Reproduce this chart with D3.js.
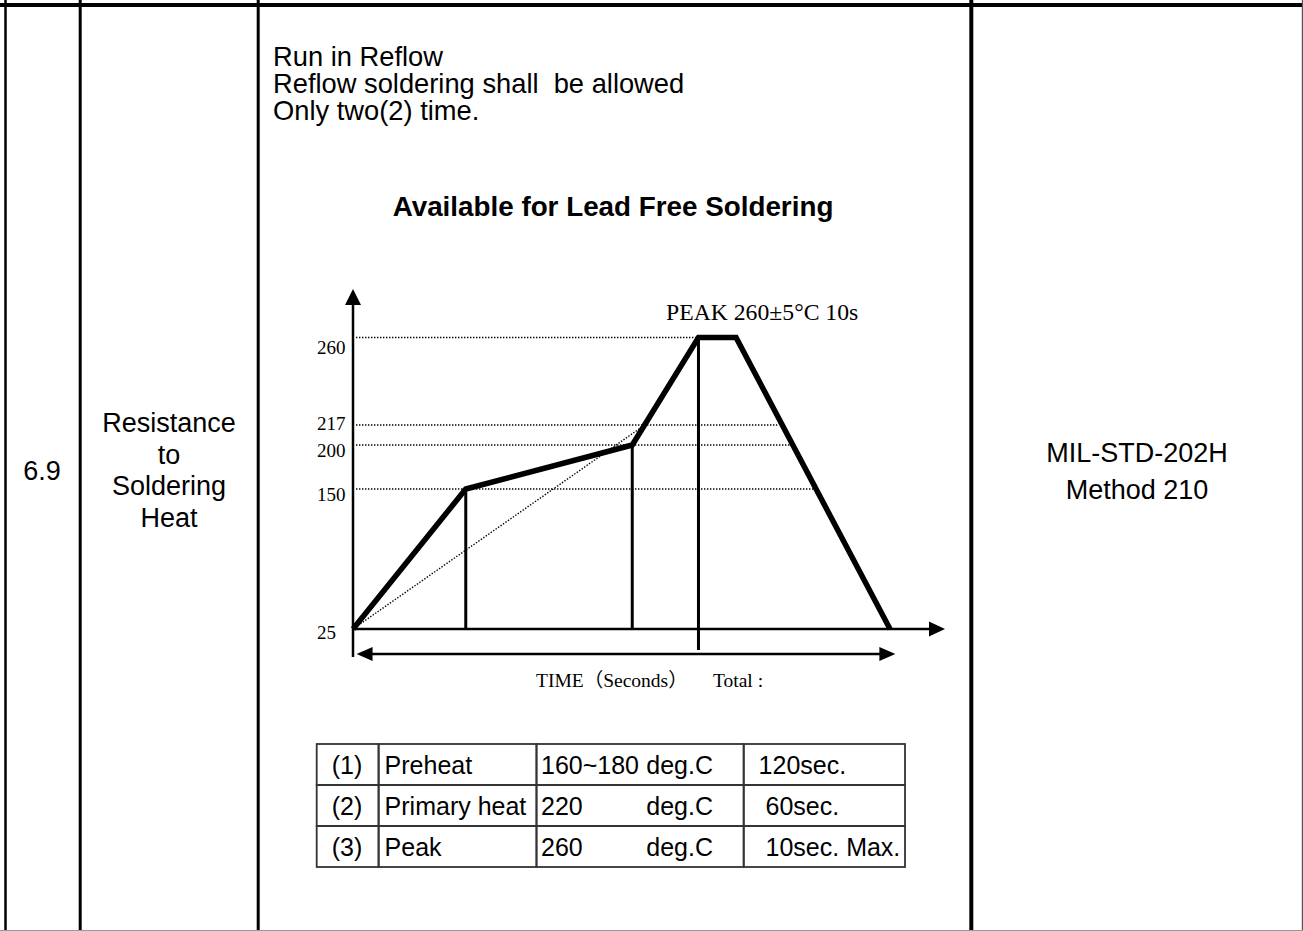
<!DOCTYPE html>
<html>
<head>
<meta charset="utf-8">
<script src="https://cdn.jsdelivr.net/npm/d3@7"></script>
<style>
body { margin: 0; background: #fff; }
svg text { fill: #000; }
.sans { font-family: "Liberation Sans", Arial, sans-serif; }
.serif { font-family: "Liberation Serif", "Times New Roman", "Noto Sans CJK SC", serif; }
.cell { fill: none; stroke: #333; stroke-width: 1.8; }
.dotted { fill: none; stroke: #000; stroke-width: 1.4; stroke-dasharray: 1.4, 1.6; }
.profile { fill: none; stroke: #000; stroke-width: 5.5; stroke-linejoin: miter; }
.marker { stroke: #000; stroke-width: 3; }
.axisline { stroke: #000; stroke-width: 2.5; }
.pre { white-space: pre; }
</style>
</head>
<body>
<svg id="sheet" width="1303" height="931"></svg>
<script>
// reflow profile, time in (unlabelled) seconds vs temperature
const profileTime = [0, 63, 156, 193, 214, 300];
const profileTemp = [25, 150, 200, 260, 260, 25];
const tempTicks = [25, 150, 200, 217, 260];
const gridEnds = [null, 257, 244, 237, 193];   // time where each dotted level meets the curve
const rampTime = [0, 163];
const rampTemp = [25, 217];
const markerTime = [63, 156, 193];
const markerTemp = [150, 200, 260];

// side columns and notes
const itemNo = "6.9";
const itemName = ["Resistance", "to", "Soldering", "Heat"];
const methodLines = ["MIL-STD-202H", "Method 210"];
const noteLines = ["Run in Reflow", "Reflow soldering shall  be allowed", "Only two(2) time."];

// conditions table
const steps = ["(1)", "(2)", "(3)"];
const stepNames = ["Preheat", "Primary heat", "Peak"];
const stepTemps = ["160~180", "220", "260"];
const stepTimes = ["  120sec.", "   60sec.", "   10sec. Max."];

// baseline nudges for the temperature labels (px below their level)
const labelNudge = [9, 11, 11, 4, 16];

let svg = d3.select("#sheet");

// ---- page grid
svg.append("line").attr("x1", 0).attr("x2", 1303).attr("y1", 5).attr("y2", 5)
    .attr("stroke", "#000").attr("stroke-width", 4);
[[5.5, 2.5], [80.2, 3], [258.2, 3], [971.3, 4]].forEach(v => {
    svg.append("line").attr("x1", v[0]).attr("x2", v[0]).attr("y1", 0).attr("y2", 931)
        .attr("stroke", "#000").attr("stroke-width", v[1]);
});
svg.append("line").attr("x1", 1302.4).attr("x2", 1302.4).attr("y1", 0).attr("y2", 931)
    .attr("stroke", "#555").attr("stroke-width", 1.2);
svg.append("line").attr("x1", 0).attr("x2", 1303).attr("y1", 930.5).attr("y2", 930.5)
    .attr("stroke", "#999").attr("stroke-width", 1);

svg.append("text").attr("class", "sans").attr("x", 42).attr("y", 480)
    .attr("text-anchor", "middle").attr("font-size", "27px").text(itemNo);
svg.append("g").selectAll("text").data(itemName).join("text")
    .attr("class", "sans").attr("x", 169).attr("y", (d, i) => 432 + i * 31.6)
    .attr("text-anchor", "middle").attr("font-size", "27px").text(d => d);
svg.append("g").selectAll("text").data(methodLines).join("text")
    .attr("class", "sans").attr("x", 1137).attr("y", (d, i) => 462 + i * 37)
    .attr("text-anchor", "middle").attr("font-size", "27px").text(d => d);

svg.append("g").selectAll("text").data(noteLines).join("text")
    .attr("class", "sans pre").attr("x", 273).attr("y", (d, i) => 66 + i * 27)
    .attr("font-size", "27.3px").text(d => d);
svg.append("text").attr("class", "sans").attr("x", 613).attr("y", 216)
    .attr("text-anchor", "middle").attr("font-size", "27.8px").attr("font-weight", "bold")
    .text("Available for Lead Free Soldering");

// ---- profile chart
let xScale = d3.scaleLinear().domain([0, 300]).range([353, 890]);
let yScale = d3.scaleLinear().domain([25, 150, 200, 217, 260]).range([629, 489, 445, 425, 337.5]);
let chart = svg.append("g");

let yAxis = d3.axisLeft(yScale).tickValues(tempTicks).tickSize(0);
let y = chart.append("g").attr("transform", "translate(353,0)").call(yAxis);
y.select(".domain").remove();
y.selectAll("text")
    .attr("font-size", "19px").attr("text-anchor", "start").attr("x", -36)
    .attr("dy", (d, i) => labelNudge[tempTicks.indexOf(d)] + "px")
    .style("font-family", "'Liberation Serif', 'Times New Roman', serif").attr("fill", "#000");

// dotted temperature levels
chart.append("g").selectAll("line").data(tempTicks.filter((d, i) => gridEnds[i] !== null)).join("line")
    .attr("class", "dotted")
    .attr("x1", xScale(0) + 3).attr("x2", d => xScale(gridEnds[tempTicks.indexOf(d)]))
    .attr("y1", d => yScale(d)).attr("y2", d => yScale(d));
chart.append("line").attr("class", "dotted")
    .attr("x1", xScale(rampTime[0])).attr("y1", yScale(rampTemp[0]))
    .attr("x2", xScale(rampTime[1])).attr("y2", yScale(rampTemp[1]));

// zone markers
chart.append("g").selectAll("line").data(markerTime).join("line")
    .attr("class", "marker")
    .attr("x1", d => xScale(d)).attr("x2", d => xScale(d))
    .attr("y1", (d, i) => yScale(markerTemp[i]))
    .attr("y2", (d, i) => i === markerTime.length - 1 ? yScale(25) + 21 : yScale(25));

// axes with arrow heads
let x0 = xScale(0), y0 = yScale(25);
chart.append("line").attr("class", "axisline").attr("x1", x0).attr("x2", x0)
    .attr("y1", y0 + 28).attr("y2", 304);
chart.append("path").attr("d", `M${x0 - 8},305 L${x0},289 L${x0 + 8},305 Z`).attr("fill", "#000");
chart.append("line").attr("class", "axisline").attr("x1", x0).attr("x2", 930)
    .attr("y1", y0).attr("y2", y0);
chart.append("path").attr("d", `M929,${y0 - 7.5} L945,${y0} L929,${y0 + 7.5} Z`).attr("fill", "#000");

// total time span arrow
let ya = 654, xl = xScale(2), xr = xScale(303);
chart.append("line").attr("class", "axisline").attr("stroke-width", 2.2)
    .attr("x1", xl + 10).attr("x2", xr - 10).attr("y1", ya).attr("y2", ya);
chart.append("path").attr("d", `M${xl},${ya} L${xl + 16},${ya - 7} L${xl + 16},${ya + 7} Z`).attr("fill", "#000");
chart.append("path").attr("d", `M${xr},${ya} L${xr - 16},${ya - 7} L${xr - 16},${ya + 7} Z`).attr("fill", "#000");

// temperature profile
let line = d3.line().x(d => xScale(d)).y((d, i) => yScale(profileTemp[i]));
chart.append("path").attr("class", "profile").attr("d", line(profileTime));

chart.append("text").attr("class", "serif").attr("x", 666).attr("y", 320)
    .attr("font-size", "23.7px").text("PEAK 260±5°C 10s");
chart.append("text").attr("class", "serif").attr("x", 536).attr("y", 687)
    .attr("font-size", "19.5px").text("TIME（Seconds）");
chart.append("text").attr("class", "serif").attr("x", 713).attr("y", 687)
    .attr("font-size", "19.5px").text("Total :");

// ---- conditions table
let cols = [316.7, 378.6, 536.5, 743.7, 905];
let rowTop = 744, rowH = 41;
let table = svg.append("g");
steps.forEach((s, r) => {
    let top = rowTop + r * rowH;
    for (let c = 0; c < 4; c++) {
        table.append("rect").attr("class", "cell")
            .attr("x", cols[c]).attr("y", top).attr("width", cols[c + 1] - cols[c]).attr("height", rowH);
    }
    let base = top + 30;
    table.append("text").attr("class", "sans").attr("x", cols[0] + 15).attr("y", base)
        .attr("font-size", "25px").text(s);
    table.append("text").attr("class", "sans").attr("x", cols[1] + 6).attr("y", base)
        .attr("font-size", "25px").text(stepNames[r]);
    table.append("text").attr("class", "sans").attr("x", cols[2] + 4.5).attr("y", base)
        .attr("font-size", "25px").text(stepTemps[r]);
    table.append("text").attr("class", "sans").attr("x", 713).attr("y", base)
        .attr("text-anchor", "end").attr("font-size", "25px").text("deg.C");
    table.append("text").attr("class", "sans pre").attr("x", cols[3] + 1).attr("y", base)
        .attr("font-size", "25px").text(stepTimes[r]);
});
</script>
</body>
</html>
